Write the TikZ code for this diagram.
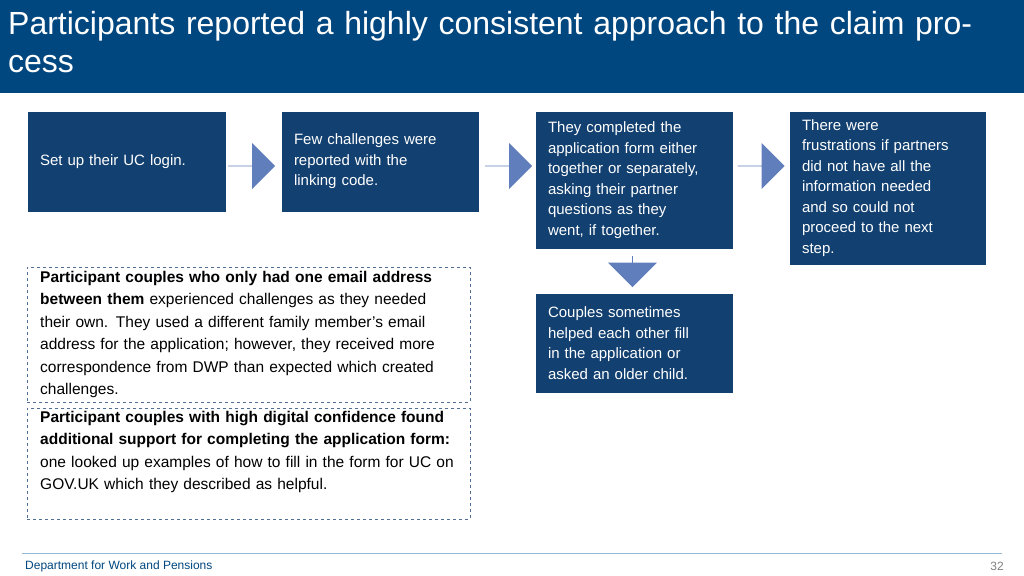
\documentclass[tikz,border=0pt]{standalone}
\usepackage{fontspec}
\setmainfont{Liberation Sans}
\usetikzlibrary{positioning}
\usetikzlibrary{shapes.arrows}
\definecolor{dwpnavy}{RGB}{0,70,127}
\definecolor{dwpbox}{RGB}{18,64,112}
\definecolor{dwparrow}{RGB}{96,126,188}
\definecolor{dwpdash}{RGB}{80,110,150}
\definecolor{dwpline}{RGB}{150,185,215}
\tikzset{stage/.style={fill=dwpbox,draw=dwpbox,text=white,align=left,inner xsep=12pt,inner ysep=0pt,
    font=\fontsize{15}{20.5}\selectfont}}
\tikzset{flow/.style={single arrow,fill=dwparrow,draw=none,inner sep=0pt,
    single arrow head extend=12pt,minimum width=46pt,minimum height=47pt}}
\tikzset{note/.style={draw=dwpdash,dashed,semithick,minimum width=443pt,anchor=north west}}
\tikzset{notetext/.style={anchor=north west,text width=420pt,align=left,inner sep=0pt,
    font=\fontsize{15.5}{22.5}\selectfont}}
\begin{document}
\begin{tikzpicture}[x=1pt,y=-1pt]
  \useasboundingbox (0,0) rectangle (1024,575);
  % Title
  \fill[dwpnavy] (0,0) rectangle (1024,93);
  \node[anchor=north west,text width=1000pt,align=left,text=white,inner sep=0pt,
    font=\fontsize{32}{38}\selectfont] (title) at (8,11)
    {Participants reported a highly consistent approach to the claim process};

  % Steps
  \node[stage,minimum width=197pt,minimum height=99pt,text width=173pt] (s1) at (126.5,161.5)
    {Set up their UC login.};
  \node[stage,minimum width=196pt,minimum height=99pt,text width=172pt] (s2) at (380,161.5)
    {Few challenges were\\reported with the\\linking code.};
  \node[stage,minimum width=196pt,minimum height=136pt,text width=172pt] (s3) at (634,180)
    {They completed the\\application form either\\together or separately,\\asking their partner\\questions as they\\went, if together.};
  \node[stage,minimum width=195pt,minimum height=152pt,text width=171pt] (s4) at (887.5,188)
    {There were\\frustrations if partners\\did not have all the\\information needed\\and so could not\\proceed to the next\\step.};
  \node[stage,minimum width=196pt,minimum height=98pt,text width=172pt] (s5) at (634,343)
    {Couples sometimes\\helped each other fill\\in the application or\\asked an older child.};

  % Arrows
  \node[flow] (a1) at (251.5,166) {};
  \node[flow] (a2) at (508.5,166) {};
  \node[flow] (a3) at (761,166) {};
  \node[flow,shape border rotate=270,minimum height=31pt,minimum width=49pt,
    single arrow head extend=12pt] (a4) at (632.5,271.5) {};

  % Notes
  \node[note,minimum height=135pt] (n1) at (27,267) {};
  \node[notetext] (t1) at (40,271)
    {\textbf{Participant couples who only had one email address between them} experienced challenges as they needed their own. They used a different family member's email address for the application; however, they received more correspondence from DWP than expected which created challenges.};
  \node[note,minimum height=111pt] (n2) at (27,408) {};
  \node[notetext] (t2) at (40,411)
    {\textbf{Participant couples with high digital confidence found additional support for completing the application form:} one looked up examples of how to fill in the form for UC on GOV.UK which they described as helpful.};

  % Footer
  \draw[dwpline,thin] (22,553) -- (1002,553);
  \node[anchor=west,inner sep=0pt,text=dwpnavy,font=\fontsize{12}{14}\selectfont] (foot) at (25,566)
    {Department for Work and Pensions};
  \node[anchor=east,inner sep=0pt,text=gray,font=\fontsize{12}{14}\selectfont] (page) at (1004,566) {32};
\end{tikzpicture}
\end{document}
